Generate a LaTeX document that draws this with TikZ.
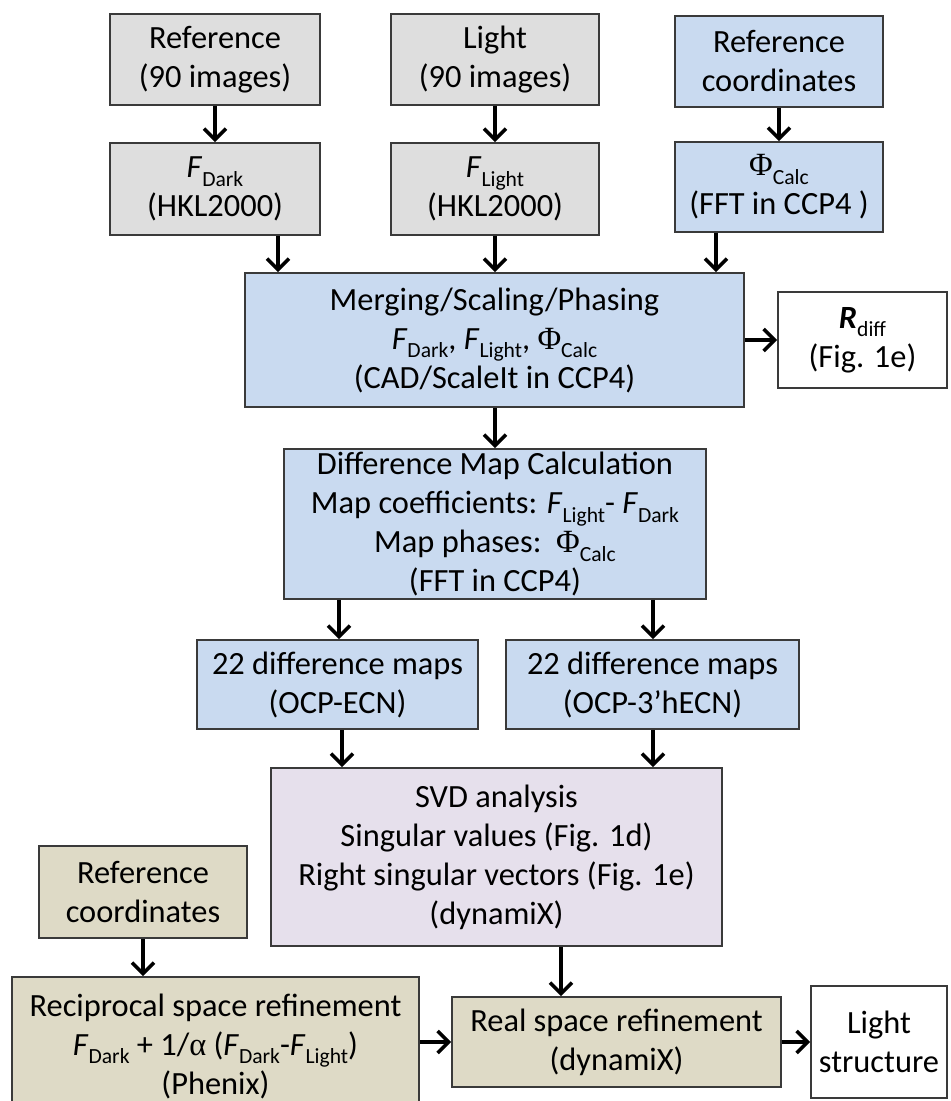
\documentclass[tikz,border=0pt]{standalone}
\usepackage{fontspec}
\setmainfont{Carlito}
\newfontfamily\grkfont{Liberation Serif}
\usetikzlibrary{arrows.meta}

\definecolor{boxgrey}{HTML}{DEDEDE}
\definecolor{boxblue}{HTML}{C9DAF0}
\definecolor{boxlav}{HTML}{E6E0EC}
\definecolor{boxtan}{HTML}{DEDAC6}
\definecolor{edge}{HTML}{3A3A3A}

% lowered subscript in the text font
\newcommand\subtx[1]{\raisebox{-0.55ex}{\fontsize{10.8pt}{12pt}\selectfont #1}}
\newcommand\Fsub[1]{\textit{F}\subtx{#1}}
\newcommand\PhiCalc{{\grkfont Φ}\subtx{Calc}}

\begin{document}
\begin{tikzpicture}[x=0.5pt,y=-0.5pt,
  box/.style={draw=edge, line width=0.8pt, align=center, inner sep=0pt,
              font=\fontsize{16.2pt}{19.5pt}\selectfont},
  arr/.style={line width=1.8pt, -{Straight Barb[length=5.5pt,width=11pt]}}]
\clip (0,0) rectangle (950,1101);

% top row: inputs
\node[box, fill=boxgrey, minimum width=105pt, minimum height=45.5pt] (ref1) at (215,59.5) {Reference\\(90 images)};
\node[box, fill=boxgrey, minimum width=104pt, minimum height=45.5pt] (light) at (495,59.5) {Light\\(90 images)};
\node[box, fill=boxblue, minimum width=104pt, minimum height=45.5pt] (refc) at (779,61.5) {Reference\\coordinates};

% second row
\node[box, fill=boxgrey, minimum width=105pt, minimum height=46pt] (fdark) at (215,189) {\Fsub{Dark}\\(HKL2000)};
\node[box, fill=boxgrey, minimum width=104pt, minimum height=46pt] (flight) at (495,189) {\Fsub{Light}\\(HKL2000)};
\node[box, fill=boxblue, minimum width=104pt, minimum height=45pt] (phi) at (779,187) {\PhiCalc\\(FFT in CCP4 )};

% merging
\node[box, fill=boxblue, minimum width=249.5pt, minimum height=67pt] (merge) at (494.5,340)
  {Merging/Scaling/Phasing\\\Fsub{Dark}, \Fsub{Light}, \PhiCalc\\(CAD/ScaleIt in CCP4)};
\node[box, fill=white, minimum width=84.5pt, minimum height=48pt] (rdiff) at (862.5,340)
  {\textbf{\textit{R}}\subtx{diff}\\(Fig. 1e)};

% difference map
\node[box, fill=boxblue, minimum width=211pt, minimum height=75pt] (diff) at (495,524)
  {Difference Map Calculation\\Map coefficients: \Fsub{Light}- \Fsub{Dark}\\Map phases:\ \ \PhiCalc\\(FFT in CCP4)};

\node[box, fill=boxblue, minimum width=140.5pt, minimum height=44.5pt] (map1) at (337.5,684.5) {22 difference maps\\(OCP-ECN)};
\node[box, fill=boxblue, minimum width=146.5pt, minimum height=44.5pt] (map2) at (652.5,684.5) {22 difference maps\\(OCP-3’hECN)};

% SVD
\node[box, fill=boxlav, minimum width=225.5pt, minimum height=89pt] (svd) at (496.5,857)
  {SVD analysis\\Singular values (Fig. 1d)\\Right singular vectors (Fig. 1e)\\(dynamiX)};

% refinement
\node[box, fill=boxtan, minimum width=104pt, minimum height=46pt] (refc2) at (143,892) {Reference\\coordinates};
\node[box, fill=boxtan, minimum width=203.5pt, minimum height=71pt] (recip) at (215.5,1048) {};
\node[align=center, inner sep=0pt, font=\fontsize{16.2pt}{19.5pt}\selectfont] (reciptxt) at (215.5,1046)
  {Reciprocal space refinement\\\Fsub{Dark} + 1/{\grkfont α} (\Fsub{Dark}-\Fsub{Light})\\(Phenix)};
\node[box, fill=boxtan, minimum width=164.5pt, minimum height=45pt] (real) at (616.5,1042) {Real space refinement\\(dynamiX)};
\node[box, fill=white, minimum width=68pt, minimum height=56pt] (lstr) at (879,1042) {Light\\structure};

% x positions of the off-centre connectors
\coordinate (xa) at (278,0);
\coordinate (xb) at (716,0);
\coordinate (xc) at (339,0);
\coordinate (xd) at (653,0);
\coordinate (xe) at (342,0);
\coordinate (xf) at (561,0);
\coordinate (ya) at (0,1042);

% connectors
\draw[arr] (ref1) -- (fdark);
\draw[arr] (light) -- (flight);
\draw[arr] (refc) -- (phi);
\draw[arr] (fdark.south -| xa) -- (merge.north -| xa);
\draw[arr] (flight.south) -- (merge.north -| flight.south);
\draw[arr] (phi.south -| xb) -- (merge.north -| xb);
\draw[arr] (merge) -- (rdiff);
\draw[arr] (merge.south -| diff.north) -- (diff.north);
\draw[arr] (diff.south -| xc) -- (map1.north -| xc);
\draw[arr] (diff.south -| xd) -- (map2.north -| xd);
\draw[arr] (map1.south -| xe) -- (svd.north -| xe);
\draw[arr] (map2.south -| xd) -- (svd.north -| xd);
\draw[arr] (svd.south -| xf) -- (real.north -| xf);
\draw[arr] (refc2.south) -- (recip.north -| refc2.south);
\draw[arr] (recip.east |- ya) -- (real.west |- ya);
\draw[arr] (real) -- (lstr);
\end{tikzpicture}
\end{document}
